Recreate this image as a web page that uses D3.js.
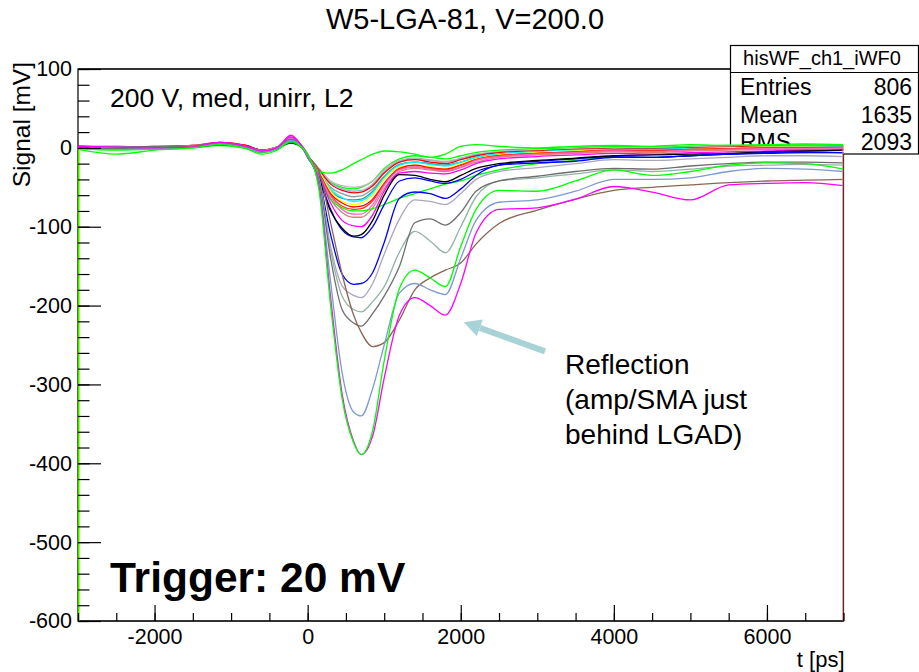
<!DOCTYPE html>
<html lang="en">
<head>
    <meta charset="UTF-8">
    <title>W5-LGA-81, V=200.0</title>
    <script src="https://d3js.org/d3.v7.min.js"></script>
    <style>
        body {
            margin: 0;
            padding: 0;
            background-color: white;
            font-family: 'Liberation Sans', Arial, Helvetica, sans-serif;
        }
        svg text {
            font-family: 'Liberation Sans', Arial, Helvetica, sans-serif;
            fill: black;
        }
    </style>
</head>
<body>
<div id="chart"></div>
<script>
    // sample times (ps) shared by every waveform
    const times = [-3000, -2500, -2000, -1500, -1150, -800, -600, -400, -220, -80,
        0, 150, 300, 450, 600, 700, 850, 1000, 1200, 1400, 1600, 1800, 2000, 2200,
        2500, 3000, 3500, 4000, 4500, 5000, 5500, 6000, 6500, 7000];

    // signal values (mV)
    const wfGreenTop = [-1, -2, -1, 1, 5, 0, -5, -1, 7, 1, -10, -30, -32, -28, -20, -15, -8, -4, -5, -8, -12, -8, 2, 4, 2, 0, 2, 3, 2, 4, 3, 4, 5, 4];
    const wfGreen4 = [0, -1, 0, 1, 5, 1, -5, 0, 8, 1, -10, -28, -44, -50, -52, -50, -42, -26, -14, -10, -12, -14, -10, -6, -3, -1, 0, 2, 1, 2, 3, 3, 4, 3];
    const wfLightGray = [1, 1, 1, 3, 7, 2, -4, 1, 13, 2, -10, -26, -42, -48, -50, -49, -42, -28, -16, -13, -15, -17, -13, -8, -5, -3, -1, 0, 0, 1, 2, 2, 3, 2];
    const wfSteel = [0, 1, 0, 2, 5, 1, -4, 0, 10, 2, -10, -28, -45, -52, -55, -54, -46, -30, -17, -14, -16, -18, -14, -9, -5, -3, -2, 0, -1, 0, 1, 2, 2, 2];
    const wfRed2 = [2, 2, 1, 3, 7, 3, -3, 1, 9, 2, -10, -28, -46, -54, -57, -56, -48, -32, -18, -15, -18, -20, -15, -10, -6, -4, -2, -1, -1, 0, 1, 2, 2, 2];
    const wfGray = [1, 0, 0, 2, 6, 1, -5, 0, 12, 2, -11, -30, -50, -58, -62, -61, -52, -36, -21, -18, -20, -22, -18, -12, -8, -5, -4, -2, -3, -1, 0, 1, 1, 1];
    const wfTeal = [0, 0, 1, 2, 5, 2, -3, 0, 8, 2, -10, -30, -54, -64, -66, -65, -55, -37, -21, -18, -20, -22, -18, -12, -8, -5, -3, -2, -2, -1, 0, 0, 1, 0];
    const wfCyan = [0, 0, 1, 2, 6, 2, -4, 0, 9, 2, -10, -30, -52, -63, -68, -67, -57, -38, -22, -18, -21, -23, -18, -12, -8, -5, -3, -2, -2, -1, 0, 1, 1, 1];
    const wfYellow = [1, 1, 1, 2, 5, 2, -4, 0, 7, 2, -10, -30, -55, -68, -72, -70, -60, -40, -24, -22, -24, -26, -20, -14, -9, -6, -4, -2, -3, -2, 0, 1, 1, 0];
    const wfRed = [2, 1, 2, 3, 6, 3, -3, 1, 8, 2, -10, -32, -58, -70, -75, -74, -65, -45, -26, -22, -25, -27, -22, -15, -10, -7, -5, -3, -4, -2, -1, 0, 0, -1];
    const wfRed3 = [1, 1, 2, 2, 6, 2, -4, 1, 9, 2, -10, -33, -60, -74, -78, -77, -67, -46, -27, -24, -26, -28, -22, -15, -10, -7, -5, -3, -3, -2, -1, 0, 0, 0];
    const wfGreenMid = [-1, -3, -2, 0, 3, -1, -6, -2, 6, 0, -10, -38, -65, -76, -80, -80, -77, -72, -64, -58, -52, -46, -42, -35, -28, -20, -16, -12, -12, -10, -8, -6, -6, -6];
    const wfPink = [1, 1, 0, 2, 6, 2, -4, 1, 12, 2, -11, -34, -62, -78, -84, -84, -72, -48, -28, -24, -27, -29, -24, -16, -11, -8, -6, -4, -5, -3, -2, -1, -1, -1];
    const wfSalmon = [1, 2, 1, 3, 6, 2, -3, 1, 9, 2, -10, -35, -65, -82, -88, -88, -76, -52, -30, -26, -28, -30, -25, -18, -12, -9, -7, -5, -6, -4, -3, -2, -2, -2];
    const wfMagentaSmall = [2, 1, 1, 2, 7, 2, -3, 1, 14, 3, -10, -35, -70, -92, -99, -100, -85, -55, -32, -30, -32, -33, -28, -20, -14, -11, -9, -7, -8, -6, -5, -4, -3, -3];
    const wfBlue2 = [0, -1, 0, 1, 5, 1, -4, -1, 7, 1, -10, -38, -78, -104, -113, -114, -100, -72, -42, -38, -42, -45, -40, -30, -22, -17, -14, -11, -12, -10, -8, -7, -6, -6];
    const wfBlack = [1, 0, 1, 1, 4, 2, -3, 0, 6, 2, -10, -40, -80, -102, -112, -110, -92, -60, -34, -35, -40, -43, -35, -26, -20, -16, -13, -10, -9, -8, -7, -5, -4, -3];
    const wfBlueBig = [2, 1, 0, 2, 6, 2, -4, 0, 8, 2, -12, -40, -110, -160, -173, -172, -158, -120, -64, -56, -58, -64, -52, -35, -22, -19, -17, -12, -12, -10, -8, -6, -5, -6];
    const wfLavender = [1, 1, 0, 2, 6, 2, -3, 1, 10, 2, -12, -40, -125, -175, -187, -190, -172, -135, -90, -66, -68, -72, -58, -40, -30, -25, -20, -15, -16, -14, -12, -10, -10, -11];
    const wfSage = [1, 0, 1, 2, 5, 1, -4, 0, 10, 2, -12, -40, -130, -188, -205, -208, -195, -176, -132, -106, -118, -133, -100, -62, -42, -38, -33, -28, -30, -27, -23, -22, -21, -22];
    const wfDarkGray = [2, 1, 1, 2, 6, 1, -5, 0, 11, 2, -12, -42, -140, -205, -222, -226, -210, -188, -150, -95, -90, -98, -82, -55, -42, -36, -30, -26, -27, -23, -20, -18, -18, -19];
    const wfBrown = [1, 0, 0, 2, 5, 1, -4, 0, 9, 2, -10, -30, -95, -160, -212, -234, -252, -247, -218, -180, -165, -155, -146, -122, -96, -79, -65, -54, -50, -47, -44, -42, -41, -40];
    const wfCornflower = [0, 1, -1, 1, 5, 0, -5, -1, 9, 2, -10, -48, -170, -285, -335, -340, -305, -250, -184, -172, -180, -186, -140, -92, -69, -66, -55, -40, -40, -38, -30, -26, -27, -30];
    const wfMagentaBig = [2, 1, 0, 1, 7, 2, -4, 0, 16, 3, -8, -50, -190, -312, -372, -389, -365, -292, -212, -190, -200, -212, -172, -108, -78, -76, -65, -49, -56, -66, -47, -45, -44, -48];
    const wfGreenBig = [-2, -8, -3, 0, 4, -1, -8, -3, 8, 1, -8, -55, -200, -318, -374, -389, -358, -270, -178, -155, -165, -176, -125, -78, -54, -55, -42, -28, -35, -30, -22, -19, -20, -27];

    // draw order and colours
    const waveSeries = [wfGreen4, wfLightGray, wfSteel, wfRed2, wfGray, wfTeal, wfCyan, wfYellow, wfRed,
        wfRed3, wfPink, wfSalmon, wfGreenMid, wfMagentaSmall, wfBlue2, wfBlack, wfGreenTop, wfBlueBig,
        wfLavender, wfSage, wfDarkGray, wfBrown, wfCornflower, wfMagentaBig, wfGreenBig];
    const waveColors = ['#00ff00', '#b8b8b8', '#9ab0c8', '#ff0000', '#999999', '#3399aa', '#00ffff', '#ffff00', '#ff0000',
        '#ff3030', '#ff66cc', '#e07b7b', '#00ff00', '#ff00ff', '#0000ff', '#000000', '#00ff00', '#0000ff',
        '#aba6bf', '#93b3a3', '#6e6e6e', '#8c6450', '#7d99d1', '#ff00ff', '#00ff00'];

    // axis ticks
    const xMajorTicks = [-2000, 0, 2000, 4000, 6000];
    const xMinorTicks = d3.range(-3000, 7001, 500);
    const yMajorTicks = d3.range(-600, 101, 100);
    const yMinorTicks = d3.range(-600, 101, 20);

    // stats box content
    const statsTitle = 'hisWF_ch1_iWF0';
    const statsLabels = ['Entries', 'Mean', 'RMS'];
    const statsValues = ['806', '1635', '2093'];

    const width = 919, height = 672;
    const frame = {left: 78, right: 843.5, top: 69, bottom: 621};

    const svg = d3.select('#chart').append('svg')
        .attr('width', width)
        .attr('height', height);

    const x = d3.scaleLinear().domain([-3000, 7000]).range([frame.left, frame.right]);
    const y = d3.scaleLinear().domain([-600, 100]).range([frame.bottom, frame.top]);

    // title
    svg.append('text')
        .attr('x', 465).attr('y', 29)
        .attr('text-anchor', 'middle')
        .style('font-size', '29px')
        .text('W5-LGA-81, V=200.0');

    // frame background
    svg.append('rect')
        .attr('x', frame.left).attr('y', frame.top)
        .attr('width', frame.right - frame.left).attr('height', frame.bottom - frame.top)
        .attr('fill', 'white').attr('stroke', 'black').attr('stroke-width', 1.2);

    // stats box (partly hidden by the histograms)
    const stats = svg.append('g');
    stats.append('rect')
        .attr('x', 730.5).attr('y', 45.5).attr('width', 188).attr('height', 108.5)
        .attr('fill', 'white').attr('stroke', 'black').attr('stroke-width', 1.2);
    stats.append('line')
        .attr('x1', 730.5).attr('x2', 918.5).attr('y1', 72.5).attr('y2', 72.5)
        .attr('stroke', 'black').attr('stroke-width', 1.2);
    stats.append('text')
        .attr('x', 822).attr('y', 65)
        .attr('text-anchor', 'middle')
        .style('font-size', '20px')
        .text(statsTitle);
    statsLabels.forEach((lab, i) => {
        stats.append('text')
            .attr('x', 740).attr('y', 95 + i * 27.5)
            .style('font-size', '23px')
            .text(lab);
        stats.append('text')
            .attr('x', 912).attr('y', 95 + i * 27.5)
            .attr('text-anchor', 'end')
            .style('font-size', '23px')
            .text(statsValues[i]);
    });

    // white histogram fill below the top envelope covers the box
    svg.append('rect')
        .attr('x', frame.left + 1).attr('y', y(4))
        .attr('width', frame.right - frame.left - 2).attr('height', frame.bottom - y(4) - 1)
        .attr('fill', 'white');

    // waveforms
    svg.append('clipPath').attr('id', 'clip')
        .append('rect')
        .attr('x', frame.left).attr('y', frame.top)
        .attr('width', frame.right - frame.left).attr('height', frame.bottom - frame.top);

    const line = d3.line()
        .x((d, i) => x(times[i]))
        .y(d => y(d))
        .curve(d3.curveMonotoneX);

    const waves = svg.append('g').attr('clip-path', 'url(#clip)');
    waves.selectAll('path')
        .data(waveSeries)
        .join('path')
        .attr('d', line)
        .attr('fill', 'none')
        .attr('stroke', (d, i) => waveColors[i])
        .attr('stroke-width', 1.3);

    // histogram edges drawn down to the frame bottom
    waves.append('line')
        .attr('x1', x(-3000) + 1.5).attr('x2', x(-3000) + 1.5)
        .attr('y1', y(0)).attr('y2', y(-600))
        .attr('stroke', '#ffff00').attr('stroke-width', 1);
    waves.append('line')
        .attr('x1', x(-3000) + 0.5).attr('x2', x(-3000) + 0.5)
        .attr('y1', y(0)).attr('y2', y(-600))
        .attr('stroke', '#00ff00').attr('stroke-width', 1.5);
    waves.append('line')
        .attr('x1', x(7000) - 0.5).attr('x2', x(7000) - 0.5)
        .attr('y1', y(-2)).attr('y2', y(-600))
        .attr('stroke', '#e08080').attr('stroke-width', 1.5);

    // frame edges (top & bottom drawn again over the curves)
    svg.append('line')
        .attr('x1', frame.left).attr('x2', 730.5)
        .attr('y1', frame.top).attr('y2', frame.top)
        .attr('stroke', 'black').attr('stroke-width', 1.2);
    svg.append('line')
        .attr('x1', frame.left).attr('x2', frame.right)
        .attr('y1', frame.bottom).attr('y2', frame.bottom)
        .attr('stroke', 'black').attr('stroke-width', 1.2);

    // plain hyphen minus, as in the original
    const fmt = d => String(d);

    // x axis, ticks pointing inwards
    const xMinor = svg.append('g')
        .attr('transform', `translate(0,${frame.bottom})`)
        .call(d3.axisBottom(x).tickValues(xMinorTicks).tickSize(-8).tickFormat(''));
    const xMajor = svg.append('g')
        .attr('transform', `translate(0,${frame.bottom})`)
        .call(d3.axisBottom(x).tickValues(xMajorTicks).tickSize(-16).tickPadding(8).tickFormat(fmt));
    xMajor.selectAll('text').style('font-size', '21.5px');

    // y axis
    const yMinor = svg.append('g')
        .attr('transform', `translate(${frame.left},0)`)
        .call(d3.axisLeft(y).tickValues(yMinorTicks).tickSize(-11.5).tickFormat(''));
    const yMajor = svg.append('g')
        .attr('transform', `translate(${frame.left},0)`)
        .call(d3.axisLeft(y).tickValues(yMajorTicks).tickSize(-23).tickPadding(6).tickFormat(fmt));
    yMajor.selectAll('text').style('font-size', '21.5px');

    [xMinor, xMajor, yMinor, yMajor].forEach(g => {
        g.select('.domain').remove();
        g.selectAll('line').attr('stroke', 'black').attr('stroke-width', 1.2);
        g.selectAll('text').style('font-family', "'Liberation Sans', Arial, sans-serif").attr('fill', 'black');
    });

    // axis titles
    svg.append('text')
        .attr('x', frame.right + 1).attr('y', 667)
        .attr('text-anchor', 'end')
        .style('font-size', '22px')
        .text('t [ps]');
    svg.append('text')
        .attr('transform', `translate(30,${frame.top - 7}) rotate(-90)`)
        .attr('text-anchor', 'end')
        .style('font-size', '24.5px')
        .text('Signal [mV]');

    // labels inside the frame
    svg.append('text')
        .attr('x', 110).attr('y', 107)
        .style('font-size', '26.5px')
        .text('200 V, med, unirr, L2');
    svg.append('text')
        .attr('x', 110).attr('y', 592)
        .style('font-size', '42.5px')
        .style('font-weight', 'bold')
        .text('Trigger: 20 mV');

    // reflection annotation arrow
    const tail = [x(3100), y(-258)];
    const head = [x(2040), y(-221)];
    const ang = Math.atan2(head[1] - tail[1], head[0] - tail[0]);
    const headLen = 17, headHalf = 9;
    const base = [head[0] - headLen * Math.cos(ang), head[1] - headLen * Math.sin(ang)];
    svg.append('line')
        .attr('x1', tail[0]).attr('y1', tail[1])
        .attr('x2', base[0]).attr('y2', base[1])
        .attr('stroke', '#a8d3d6').attr('stroke-width', 6);
    svg.append('polygon')
        .attr('points', [
            head,
            [base[0] + headHalf * Math.sin(ang), base[1] - headHalf * Math.cos(ang)],
            [base[0] - headHalf * Math.sin(ang), base[1] + headHalf * Math.cos(ang)]
        ].map(p => p.join(',')).join(' '))
        .attr('fill', '#a8d3d6');

    const noteLines = ['Reflection', '(amp/SMA just', 'behind LGAD)'];
    svg.append('text')
        .attr('x', 565).attr('y', 374)
        .style('font-size', '28px')
        .selectAll('tspan')
        .data(noteLines)
        .join('tspan')
        .attr('x', 565)
        .attr('dy', (d, i) => i === 0 ? 0 : 35)
        .text(d => d);
</script>
</body>
</html>
